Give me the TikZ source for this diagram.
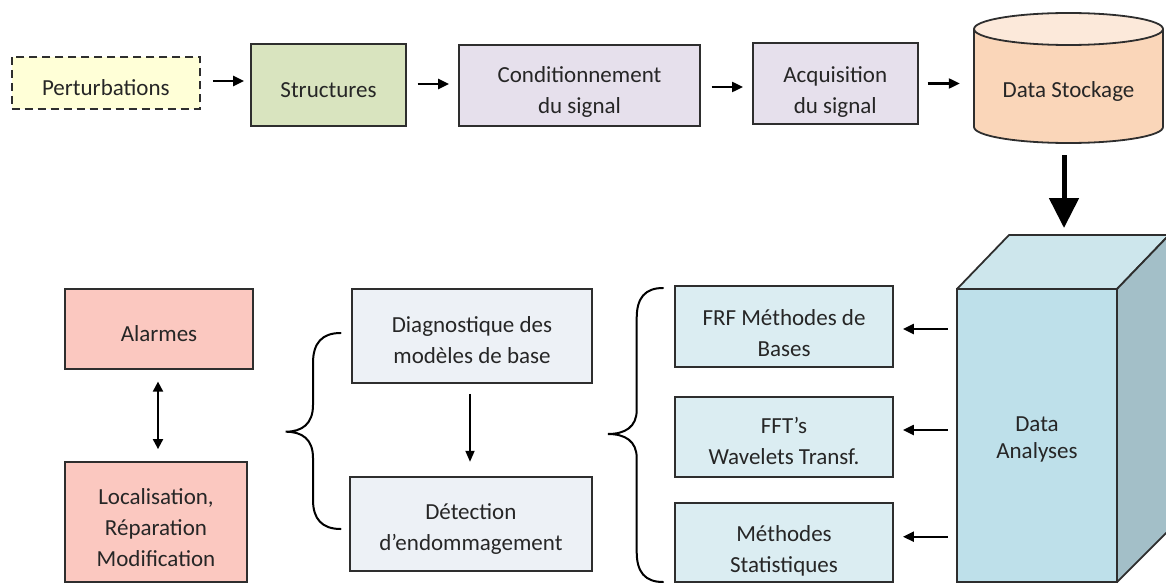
\documentclass[tikz,border=0pt]{standalone}
\usepackage{fontspec}
\setmainfont{Carlito}
\usetikzlibrary{arrows.meta}
\definecolor{bordc}{HTML}{2E2E2E}
\definecolor{txtc}{HTML}{262626}
\definecolor{pertc}{HTML}{FFFFD7}
\definecolor{structc}{HTML}{D9E4BF}
\definecolor{condc}{HTML}{E6E0EC}
\definecolor{cylbody}{HTML}{FAD6B9}
\definecolor{cyltop}{HTML}{FCE9DA}
\definecolor{alarmc}{HTML}{FBC8C0}
\definecolor{diagc}{HTML}{EDF1F6}
\definecolor{frfc}{HTML}{DBEDF2}
\definecolor{anafront}{HTML}{BEE0EA}
\definecolor{anatop}{HTML}{CDE6EC}
\definecolor{anaside}{HTML}{A3BFC8}
\newcommand\bxt[2][7pt]{\raisebox{-#1}[\height][\depth]{\begin{tabular}{@{}c@{}}#2\end{tabular}}}
\tikzset{
  box/.style={draw=bordc, line width=1.8pt, inner sep=0pt},
  wh/.style 2 args={minimum width=#1pt, minimum height=#2pt},
  arr/.style={draw=black, line width=2.2pt, -{Triangle[length=11pt,width=10pt]}},
  thinarr/.style={draw=black, line width=1.8pt, -{Triangle[length=11pt,width=9pt]}},
  dblarr/.style={draw=black, line width=2pt, {Triangle[length=10pt,width=10pt]}-{Triangle[length=10pt,width=10pt]}},
  bigarr/.style={draw=black, line width=5pt, -{Triangle[length=30pt,width=29pt]}},
  brace/.style={draw=black, line width=2pt, line cap=round}
}
\begin{document}
\begin{tikzpicture}[x=1pt, y=-1pt, font=\fontsize{23}{31}\selectfont, text=txtc]
\useasboundingbox (0,0) rectangle (1166,583);

% top row
\node[box, fill=pertc, wh={188.3}{52}, dash pattern=on 8pt off 5pt] (pert) at (105.85,83) {\bxt[6pt]{Perturbations}};
\node[box, fill=structc, wh={155}{82}] (struct) at (328.5,85) {\bxt[6pt]{Structures}};
\node[box, fill=condc, wh={241}{81}] (cond) at (579.5,85.5) {\bxt[6.5pt]{Conditionnement\\du signal}};
\node[box, fill=condc, wh={164.7}{81}] (acq) at (835.3,83.5) {\bxt[8pt]{Acquisition\\du signal}};

% cylinder
\fill[cylbody] (974,29) -- (974,127) arc[start angle=180, end angle=0, x radius=94.5, y radius=16] -- (1163,29) -- cycle;
\draw[bordc, line width=1.8pt] (974,29) -- (974,127) arc[start angle=180, end angle=0, x radius=94.5, y radius=16] -- (1163,29);
\draw[bordc, line width=1.8pt, fill=cyltop] (1068.5,29) ellipse [x radius=94.5, y radius=16];
\node[inner sep=0pt, wh={189}{106}] (stock) at (1068.5,90) {\bxt[1.2pt]{Data Stockage}};

\draw[arr, shorten <=12pt, shorten >=6pt] ([yshift=2pt]pert.east) -- ([yshift=2pt]pert.east -| struct.west);
\draw[arr, shorten <=10.7pt, shorten >=9pt] ([yshift=1pt]struct.east) -- ([yshift=1pt]struct.east -| cond.west);
\draw[arr, shorten <=10.7pt, shorten >=9pt] ([yshift=-1.5pt]cond.east) -- ([yshift=-1.5pt]cond.east -| acq.west);
\draw[arr, shorten <=9pt, shorten >=14pt] (acq.east) -- (acq.east -| stock.west);

% big arrow
\coordinate (atop) at (1064,228);
\draw[bigarr, shorten <=12pt] (stock.south -| atop) -- (atop);

% 3D box
\begin{scope}
\clip (0,0) rectangle (1166,583);
\filldraw[fill=anatop, draw=bordc, line width=1.8pt, line join=round] (957,289) -- (1009,235) -- (1169,235) -- (1117,289) -- cycle;
\filldraw[fill=anaside, draw=bordc, line width=1.8pt, line join=round] (1117,289) -- (1169,235) -- (1169,530) -- (1117,582) -- cycle;
\node[box, fill=anafront, wh={160}{293}] (ana) at (1037,435.5) {\renewcommand\arraystretch{0.87}\bxt[3.7pt]{Data\\Analyses}};
\end{scope}

% methods
\node[box, fill=frfc, wh={218}{80.7}] (frf) at (784,326.35) {\bxt[8pt]{FRF Méthodes de\\Bases}};
\node[box, fill=frfc, wh={218}{80}] (fft) at (784,436.7) {\bxt[6pt]{FFT’s\\Wavelets Transf.}};
\node[box, fill=frfc, wh={218}{79}] (stat) at (784,542.5) {\bxt[8pt]{Méthodes\\Statistiques}};

\draw[arr, shorten <=8.3pt, shorten >=9pt] ([yshift=-2.65pt]ana.west |- frf.east) -- ([yshift=-2.65pt]frf.east);
\draw[arr, shorten <=8.3pt, shorten >=9pt] ([yshift=6.7pt]ana.west |- fft.east) -- ([yshift=6.7pt]fft.east);
\draw[arr, shorten <=8.3pt, shorten >=9pt] ([yshift=5.8pt]ana.west |- stat.east) -- ([yshift=5.8pt]stat.east);

% diagnostics
\node[box, fill=diagc, wh={240}{94}] (diag) at (472,336) {\bxt[5.5pt]{Diagnostique des\\modèles de base}};
\node[box, fill=diagc, wh={241.7}{94}] (det) at (470.85,524) {\bxt[5pt]{Détection\\d’endommagement}};
\draw[thinarr, shorten <=10pt, shorten >=14.3pt] ([xshift=-2pt]diag.south) -- ([xshift=-2pt]diag.south |- det.north);

% alarms
\node[box, fill=alarmc, wh={188}{80}] (alarm) at (159,329) {\bxt[6pt]{Alarmes}};
\node[box, fill=alarmc, wh={182}{120}] (loc) at (156,522) {\bxt[7pt]{Localisation,\\Réparation\\Modification}};
\draw[dblarr, shorten <=11.7pt, shorten >=12pt] ([xshift=-1pt]alarm.south) -- ([xshift=-1pt]alarm.south |- loc.north);

% braces
\draw[brace] (340.7,333) .. controls (322,333) and (313,343) .. (313,363) -- (313,405) .. controls (313,424) and (302,431.7) .. (285.7,431.7) .. controls (302,431.7) and (313,439) .. (313,458) -- (313,500) .. controls (313,519) and (322,529) .. (340.7,529);
\draw[brace] (663,288) .. controls (645,288) and (636.7,298) .. (636.7,318) -- (636.7,410) .. controls (636.7,427) and (625,434) .. (608,434) .. controls (625,434) and (636.7,441) .. (636.7,458) -- (636.7,552) .. controls (636.7,572) and (645,582) .. (663,582);
\end{tikzpicture}
\end{document}
